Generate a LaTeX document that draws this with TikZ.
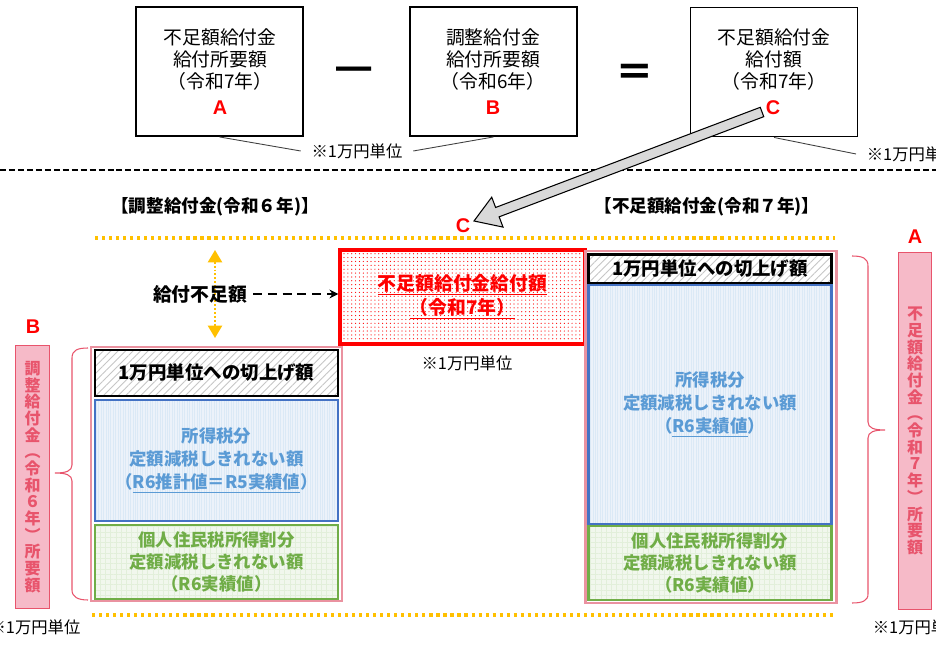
\documentclass[tikz,border=0pt]{standalone}
\usepackage{fontspec}
\setmainfont{Noto Sans CJK JP}
\newfontfamily\arialfont{Liberation Sans}
\usepackage{tikz}
\usetikzlibrary{arrows.meta, patterns, patterns.meta, calc}
\definecolor{pinkline}{RGB}{234,146,160}
\definecolor{pinkfill}{RGB}{246,186,200}
\definecolor{pinktext}{RGB}{232,84,108}
\definecolor{blueline}{RGB}{68,114,196}
\definecolor{bluetext}{RGB}{91,155,213}
\definecolor{bluewash}{RGB}{236,242,250}
\definecolor{greenline}{RGB}{112,173,71}
\definecolor{orangedot}{RGB}{255,192,0}
\definecolor{arrowgray}{RGB}{217,217,217}
\newcommand{\fs}[2]{\fontsize{#1}{#2}\selectfont}
\newcommand{\vfont}{\bfseries\fs{9.1pt}{9.5pt}}

\begin{document}
\begin{tikzpicture}[x=0.02cm, y=-0.02cm, >={Stealth[length=5pt,width=5pt]},
  topbox/.style={draw, line width=1.1pt, minimum width=3.34cm, minimum height=2.58cm},
  toptext/.style={align=center, font=\fs{10.7pt}{12.8pt}},
  letter/.style={text=red, font=\arialfont\bfseries\fs{11.3pt}{12pt}, inner sep=0pt},
  sign/.style={font=\fs{20pt}{20pt}, inner sep=0pt},
  note/.style={font=\fs{9.3pt}{11pt}, inner xsep=6pt, inner ysep=1pt},
  callout/.style={line width=0.5pt, draw=black!75},
  header/.style={font=\bfseries\fs{10pt}{11pt}},
  orangeline/.style={orangedot, line width=1.8pt, dash pattern=on 1.8pt off 2.2pt},
  pinkframe/.style={draw=pinkline, line width=1.7pt},
  hatchfill/.style={preaction={fill=white}, pattern={Lines[angle=45,distance=3pt,line width=0.5pt]}, pattern color=gray!45},
  bluefill/.style={preaction={fill=bluewash}, pattern={Lines[angle=90,distance=1.4pt,line width=0.3pt]}, pattern color=bluetext!22},
  greenfill/.style={preaction={fill=greenline!10}, pattern={Hatch[distance=3pt,line width=0.4pt]}, pattern color=greenline!20},
  reddots/.style={preaction={fill=white}, pattern={Dots[distance=2.2pt,radius=0.35pt]}, pattern color=red},
  upbox/.style={draw, line width=1.6pt, hatchfill, font=\bfseries\fs{10.5pt}{12pt}, minimum width=4.86cm},
  taxbox/.style={draw=blueline, line width=1.4pt, bluefill, text=bluetext, align=center, font=\bfseries\fs{9.9pt}{13pt}, minimum width=4.86cm},
  resbox/.style={draw=greenline, line width=1.6pt, greenfill, text=greenline, align=center, font=\bfseries\fs{9.9pt}{12.5pt}, minimum width=4.86cm, minimum height=1.48cm},
  shortbox/.style={draw=red, line width=2pt, reddots, text=red, align=center, font=\bfseries\fs{10.7pt}{13.6pt}, minimum width=4.9cm, minimum height=1.88cm},
  gaptext/.style={font=\bfseries\fs{10.7pt}{12pt}},
  gaparrow/.style={orangedot, line width=1.1pt, dash pattern=on 1.1pt off 1.1pt, {Triangle[width=8pt,length=7pt]}-{Triangle[width=8pt,length=7pt]}},
  dasharrow/.style={->, line width=1.2pt, dash pattern=on 5pt off 3.4pt},
  vbox/.style={draw=pinktext, fill=pinkfill, line width=0.6pt, text=pinktext, align=center, font=\vfont, minimum width=0.67cm, inner sep=1pt},
  pinkbrace/.style={draw=pinktext, line width=0.6pt}]
\useasboundingbox (0,0) rectangle (936,648);

% top row: A - B = C
\node[topbox] (boxA) at (219.5,71.5) {};
\node[topbox] (boxB) at (493.5,71.5) {};
\node[topbox] (boxC) at (774,72) {};
\node[toptext] (txtA) at (220,59.5) {不足額給付金\\給付所要額\\（令和7年）};
\node[toptext] (txtB) at (493,59.5) {調整給付金\\給付所要額\\（令和6年）};
\node[toptext] (txtC) at (774,59.5) {不足額給付金\\給付額\\（令和7年）};
\node[letter] (letA) at (220,108) {A};
\node[letter] (letB) at (493,108) {B};
\node[sign] (minus) at (354,75) {━};
\node[sign, font=\bfseries\fs{22pt}{22pt}] (equal) at (635,75) {＝};

\node[note] (noteAB) at (357,151) {※1万円単位};
\draw[callout] (boxA.south) -- (noteAB.west);
\draw[callout] (boxB.south) -- (noteAB.east);
\node[note, anchor=west] (noteC) at (856,154) {※1万円単位};
\draw[callout] (boxC.south) -- (noteC.west);

\draw[line width=1.1pt, dash pattern=on 3.4pt off 1.7pt] (0,170) -- (936,170);

% headers
\node[header] (hdL) at (215,207) {【調整給付金(令和６年)】};
\node[header] (hdR) at (707,207) {【不足額給付金(令和７年)】};
\node[letter] (lblC) at (463,226) {C};

% big gray arrow C -> C
\node[letter] (letC) at (773,108) {C};
\coordinate (arrT) at ($(letC)+(-11,4)$);
\coordinate (arrP) at ($(lblC)+(11,-5)$);
\coordinate (arrB) at ($(arrP)!0.5cm!(arrT)$);
\draw[fill=arrowgray, line width=0.6pt, line join=miter]
  ($(arrT)!0.1cm!90:(arrP)$) -- ($(arrB)!0.1cm!-90:(arrT)$) -- ($(arrB)!0.32cm!-90:(arrT)$)
  -- (arrP) -- ($(arrB)!0.32cm!90:(arrT)$) -- ($(arrB)!0.1cm!90:(arrT)$)
  -- ($(arrT)!0.1cm!-90:(arrP)$) -- cycle;

\draw[orangeline] (95,238) -- (835,238);
\draw[orangeline] (92,615) -- (835,615);

% shortfall
\coordinate (gapTop) at (215,250);
\coordinate (gapBot) at (215,338);
\draw[gaparrow] (gapTop) -- (gapBot);
\node[gaptext] (gap) at (200,294) {給付不足額};
\node[shortbox] (short) at (462.5,297) {\underline{不足額給付金給付額}\\\underline{（令和7年）}};
\draw[dasharrow] (gap.east) -- (gap.east -| short.west);
\node[note] (noteS) at (467,363) {※1万円単位};

% left stack (R6)
\draw[pinkframe] (91,347) rectangle (342,601);
\node[upbox, minimum height=0.92cm] (upL) at (216.5,373) {1万円単位への切上げ額};
\node[taxbox, minimum height=2.42cm] (taxL) at (216.5,460.5) {所得税分\\定額減税しきれない額\\（\underline{R6推計値＝R5実績値}）};
\node[resbox] (resL) at (216.5,562) {個人住民税所得割分\\定額減税しきれない額\\（R6実績値）};

% right stack (R7)
\draw[pinkframe] (585,251) rectangle (836,603);
\node[upbox, minimum height=0.56cm] (upR) at (710,269) {1万円単位への切上げ額};
\node[taxbox, minimum height=4.78cm] (taxR) at (710,404.5) {所得税分\\定額減税しきれない額\\（\underline{R6実績値}）};
\node[resbox] (resR) at (710,563) {個人住民税所得割分\\定額減税しきれない額\\（R6実績値）};

% side labels
\draw[pinkbrace] (88,348) .. controls (78,348) and (72,350) .. (72,358) -- (72,465)
  .. controls (72,471) and (66,473) .. (55,473) .. controls (66,473) and (72,475) .. (72,481)
  -- (72,590) .. controls (72,597) and (78,600) .. (88,600);
\node[vbox, minimum height=5.26cm] (vB) at (32.5,477) {調\\整\\給\\付\\金\\︵\\令\\和\\６\\年\\︶\\所\\要\\額};
\node[letter] (lblB) at (33,327) {B};
\node[note] (noteB) at (35,627) {※1万円単位};

\draw[pinkbrace] (852,256) .. controls (862,256) and (868,258) .. (868,266) -- (868,422)
  .. controls (868,428) and (874,430) .. (885,430) .. controls (874,430) and (868,432) .. (868,438)
  -- (868,594) .. controls (868,601) and (862,603) .. (852,603);
\node[vbox, minimum height=7.16cm] (vA) at (915,431) {不\\足\\額\\給\\付\\金\\︵\\令\\和\\７\\年\\︶\\所\\要\\額};
\node[letter] (lblA) at (915,237) {A};
\node[note, anchor=west] (noteA) at (862,627) {※1万円単位};
\end{tikzpicture}
\end{document}
